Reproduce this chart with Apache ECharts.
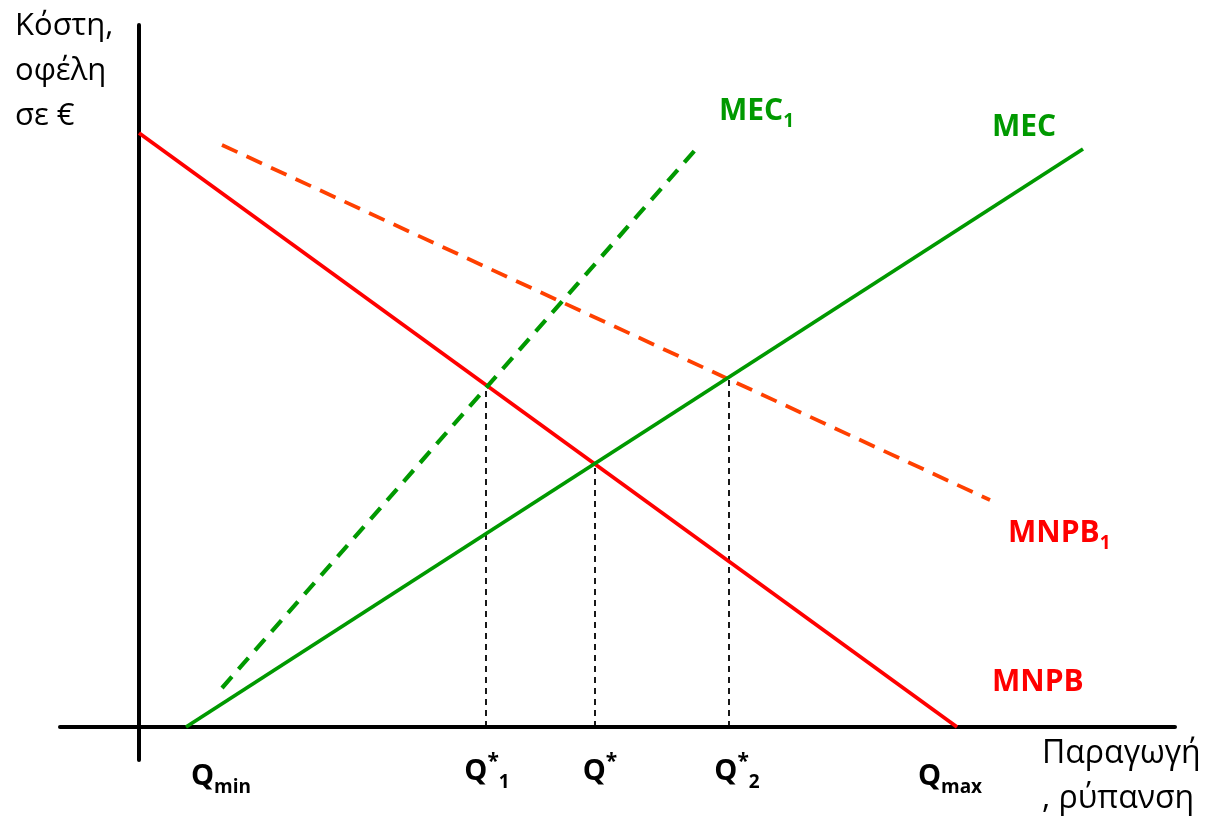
<!DOCTYPE html>
<html>
<head>
<meta charset="utf-8">
<script src="https://cdn.jsdelivr.net/npm/echarts@6/dist/echarts.min.js"></script>
<style>html,body{margin:0;padding:0;background:#fff;}#c{width:1207px;height:824px;}</style>
</head>
<body>
<div id="c"></div>
<script>
// ---- data (in chart units: origin at axes crossing) ----
const xRange = [-79, 1036];
const yRange = [-33, 702];
const MNPB  = [[0, 594], [818, 0]];
const MEC   = [[47, 0], [944, 578]];
const MEC1  = [[83, 39], [558, 579]];
const MNPB1 = [[83, 582], [851, 227]];
const dropLines = [
  [[347, 0], [347, 342]],
  [[456, 0], [456, 265]],
  [[590, 0], [590, 349]]
];
const qLabels = [
  { text: '{q|Q}{sub|min}', pos: [82, -50] },
  { text: '{q|Q}{sup|*}{sub|1}', pos: [348, -45] },
  { text: '{q|Q}{sup|*}', pos: [461, -45] },
  { text: '{q|Q}{sup|*}{sub|2}', pos: [598, -45] },
  { text: '{q|Q}{sub|max}', pos: [811, -50] }
];
const curveLabels = [
  { text: '{g|MEC}{gs|1}', pos: [580, 616] },
  { text: '{g|MEC}', pos: [853, 600] },
  { text: '{r|MNPB}{rs|1}', pos: [869, 194] },
  { text: '{r|MNPB}', pos: [853, 45] }
];
const yTitle = 'Κόστη,\nοφέλη\nσε €';
const xTitle = 'Παραγωγή\n, ρύπανση';

const RED = '#FF0000', GREEN = '#009900', ORANGE = '#FF4000';
const LF = '"Open Sans", "Noto Sans", sans-serif';

function rs(color, size, lh, va) {
  const s = { fontFamily: LF, fontWeight: 'bold', fontSize: size, lineHeight: lh, color,
              textBorderWidth: 0, textBorderColor: 'transparent', textShadowBlur: 0, textShadowColor: 'transparent' };
  if (va) s.verticalAlign = va;
  return s;
}
const rich = {
  q:   rs('#000', 29, 40),
  sub: rs('#000', 19, 16, 'bottom'),
  sup: rs('#000', 21, 22, 'top'),
  g:   rs(GREEN, 30, 40),
  gs:  rs(GREEN, 19, 16, 'bottom'),
  r:   rs(RED, 30, 40),
  rs:  rs(RED, 19, 16, 'bottom')
};
const labelBase = {
  show: true, position: 'inside', verticalAlign: 'middle', rich,
  color: '#000', textBorderWidth: 0, textBorderColor: 'transparent', opacity: 1
};

function lineSeries(name, data, color, width, type, z) {
  return {
    name, type: 'line', data, symbol: 'none', z: z, silent: true,
    lineStyle: { color, width, type }
  };
}

const series = [];
dropLines.forEach((d, i) => series.push(lineSeries('drop' + i, d, '#000', 1.8, [6, 5], 1)));
series.push(lineSeries('MNPB1', MNPB1, ORANGE, 3.8, [17, 10], 2));
series.push(lineSeries('MNPB', MNPB, RED, 3.8, 'solid', 3));
series.push(lineSeries('MEC1', MEC1, GREEN, 4.2, [15, 10], 4));
series.push(lineSeries('MEC', MEC, GREEN, 3.8, 'solid', 5));
series.push({
  type: 'scatter', symbolSize: 0, clip: false, silent: true, z: 10,
  itemStyle: { color: 'transparent', opacity: 1 },
  data: qLabels.map(l => ({ value: l.pos, label: { formatter: l.text } })),
  label: Object.assign({ align: 'center' }, labelBase)
});
series.push({
  type: 'scatter', symbolSize: 0, clip: false, silent: true, z: 10,
  itemStyle: { color: 'transparent', opacity: 1 },
  data: curveLabels.map(l => ({ value: l.pos, label: { formatter: l.text } })),
  label: Object.assign({ align: 'left' }, labelBase)
});

const chart = echarts.init(document.getElementById('c'), null, { renderer: 'canvas' });
chart.setOption({
  animation: false,
  backgroundColor: '#fff',
  grid: { left: 60, right: 32, top: 25, bottom: 64 },
  xAxis: {
    type: 'value', min: xRange[0], max: xRange[1],
    axisLine: { show: true, onZero: true, lineStyle: { color: '#000', width: 4 } },
    axisTick: { show: false }, axisLabel: { show: false }, splitLine: { show: false }
  },
  yAxis: {
    type: 'value', min: yRange[0], max: yRange[1],
    axisLine: { show: true, onZero: true, lineStyle: { color: '#000', width: 4 } },
    axisTick: { show: false }, axisLabel: { show: false }, splitLine: { show: false }
  },
  graphic: [
    { type: 'text', left: 15, top: 4, style: { text: yTitle, font: '31px "Open Sans", "Noto Sans", sans-serif', lineHeight: 45, fill: '#000' } },
    { type: 'text', left: 1042, top: 731, style: { text: xTitle, font: '32px "Open Sans", "Noto Sans", sans-serif', lineHeight: 45, fill: '#000' } }
  ],
  series
});
</script>
</body>
</html>
